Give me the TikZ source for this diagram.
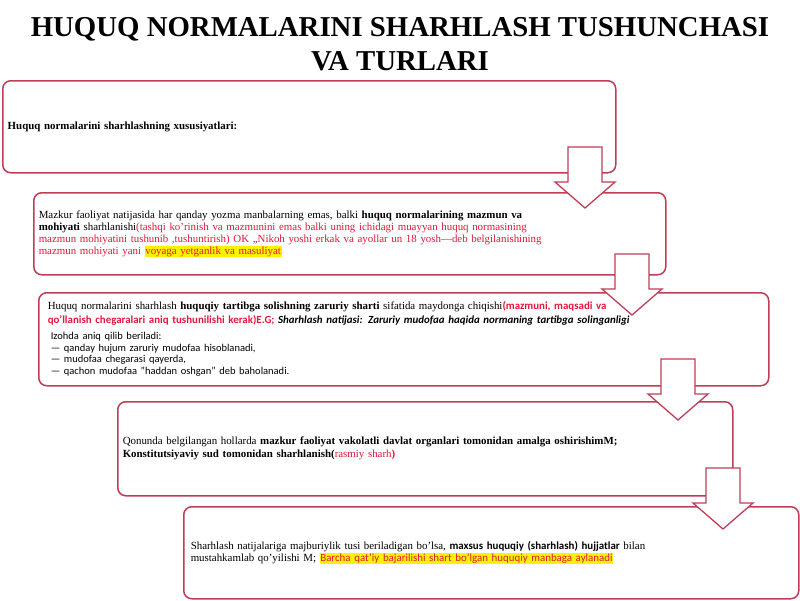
\documentclass[tikz,border=0pt]{standalone}
\usepackage{fontspec}
\setmainfont{Liberation Serif}
\setsansfont{Carlito}
\usetikzlibrary{positioning}

\definecolor{boxred}{RGB}{190,62,88}
\definecolor{txtred}{RGB}{225,25,60}
\definecolor{hlyellow}{RGB}{255,242,0}
\newcommand{\hlmark}[1]{{\setlength{\fboxsep}{0.6pt}\colorbox{hlyellow}{#1}}}

\tikzset{
    infobox/.style={draw=boxred, line width=1.5pt, rounded corners=8pt, fill=white, anchor=north west,
        align=left, inner xsep=5pt, inner ysep=0pt, font=\fontsize{10.9}{12}\selectfont},
    flowarrow/.style={draw=boxred, line width=1.3pt, fill=white},
    downarrow/.pic={\path[flowarrow] (-17,0) -- (17,0) -- (17,35) -- (30,35) -- (0,61) -- (-30,35) -- (-17,35) -- cycle;}
}

\begin{document}
\begin{tikzpicture}[x=1pt, y=-1pt]
    \useasboundingbox (0,0) rectangle (800,600);

    % Title
    \node[font=\fontsize{28.8}{34}\selectfont\bfseries, align=center, anchor=north] (title) at (400,14) {
        HUQUQ NORMALARINI SHARHLASH TUSHUNCHASI\\VA TURLARI
    };

    % Boxes
    \node[infobox, minimum width=613pt, minimum height=92pt, text width=603pt] (xusus) at (2,80) {
        \textbf{Huquq normalarini sharhlashning xususiyatlari:}
    };

    \node[infobox, minimum width=632pt, minimum height=82pt, text width=622pt] (mazmun) at (33,192) {
        Mazkur faoliyat natijasida har qanday yozma manbalarning emas, balki \textbf{huquq normalarining mazmun va}\\
        \textbf{mohiyati} sharhlanishi{\color{txtred}(tashqi ko’rinish va mazmunini emas balki uning ichidagi muayyan huquq normasining}\\
        {\color{txtred}mazmun mohiyatini tushunib ,tushuntirish) OK ,,Nikoh yoshi erkak va ayollar un 18 yosh—deb belgilanishining}\\
        {\color{txtred}mazmun mohiyati yani \hlmark{voyaga yetganlik va masuliyat}}
    };

    \node[infobox, minimum width=722pt, minimum height=93pt, text width=712pt, inner xsep=9pt] (shart) at (38,292) {
        Huquq normalarini sharhlash \textbf{huquqiy tartibga solishning zaruriy sharti} sifatida maydonga chiqishi{\sffamily\bfseries\color{txtred}(mazmuni, maqsadi va}\\[2pt]
        {\sffamily\bfseries\color{txtred}qo’llanish chegaralari aniq tushunilishi kerak)E.G;} {\sffamily\bfseries\itshape Sharhlash natijasi: Zaruriy mudofaa haqida normaning tartibga solinganligi}\\[4pt]
        {\sffamily\fontsize{10.5}{11.7}\selectfont\hspace{3pt}Izohda aniq qilib beriladi:\\
        \hspace{3pt}— qanday hujum zaruriy mudofaa hisoblanadi,\\
        \hspace{3pt}— mudofaa chegarasi qayerda,\\
        \hspace{3pt}— qachon mudofaa "haddan oshgan" deb baholanadi.}
    };

    \node[infobox, minimum width=615pt, minimum height=94pt, text width=605pt] (rasmiy) at (117,401) {
        Qonunda belgilangan hollarda \textbf{mazkur faoliyat vakolatli davlat organlari tomonidan amalga oshirishimM;}\\[1pt]
        \textbf{Konstitutsiyaviy sud tomonidan sharhlanish(}{\color{txtred}rasmiy sharh\textbf{)}}
    };

    \node[infobox, minimum width=615pt, minimum height=92pt, text width=601pt, inner xsep=7pt] (maxsus) at (183,506) {
        Sharhlash natijalariga majburiylik tusi beriladigan bo’lsa, {\sffamily\bfseries maxsus huquqiy (sharhlash) hujjatlar} bilan\\
        mustahkamlab qo’yilishi M; \hlmark{\sffamily\color{txtred}Barcha qat’iy bajarilishi shart bo’lgan huquqiy manbaga aylanadi}
    };

    % Arrows
    \pic at (585,147) {downarrow};
    \pic at (632,254) {downarrow};
    \pic at (678,359) {downarrow};
    \pic at (723,468) {downarrow};
\end{tikzpicture}
\end{document}
